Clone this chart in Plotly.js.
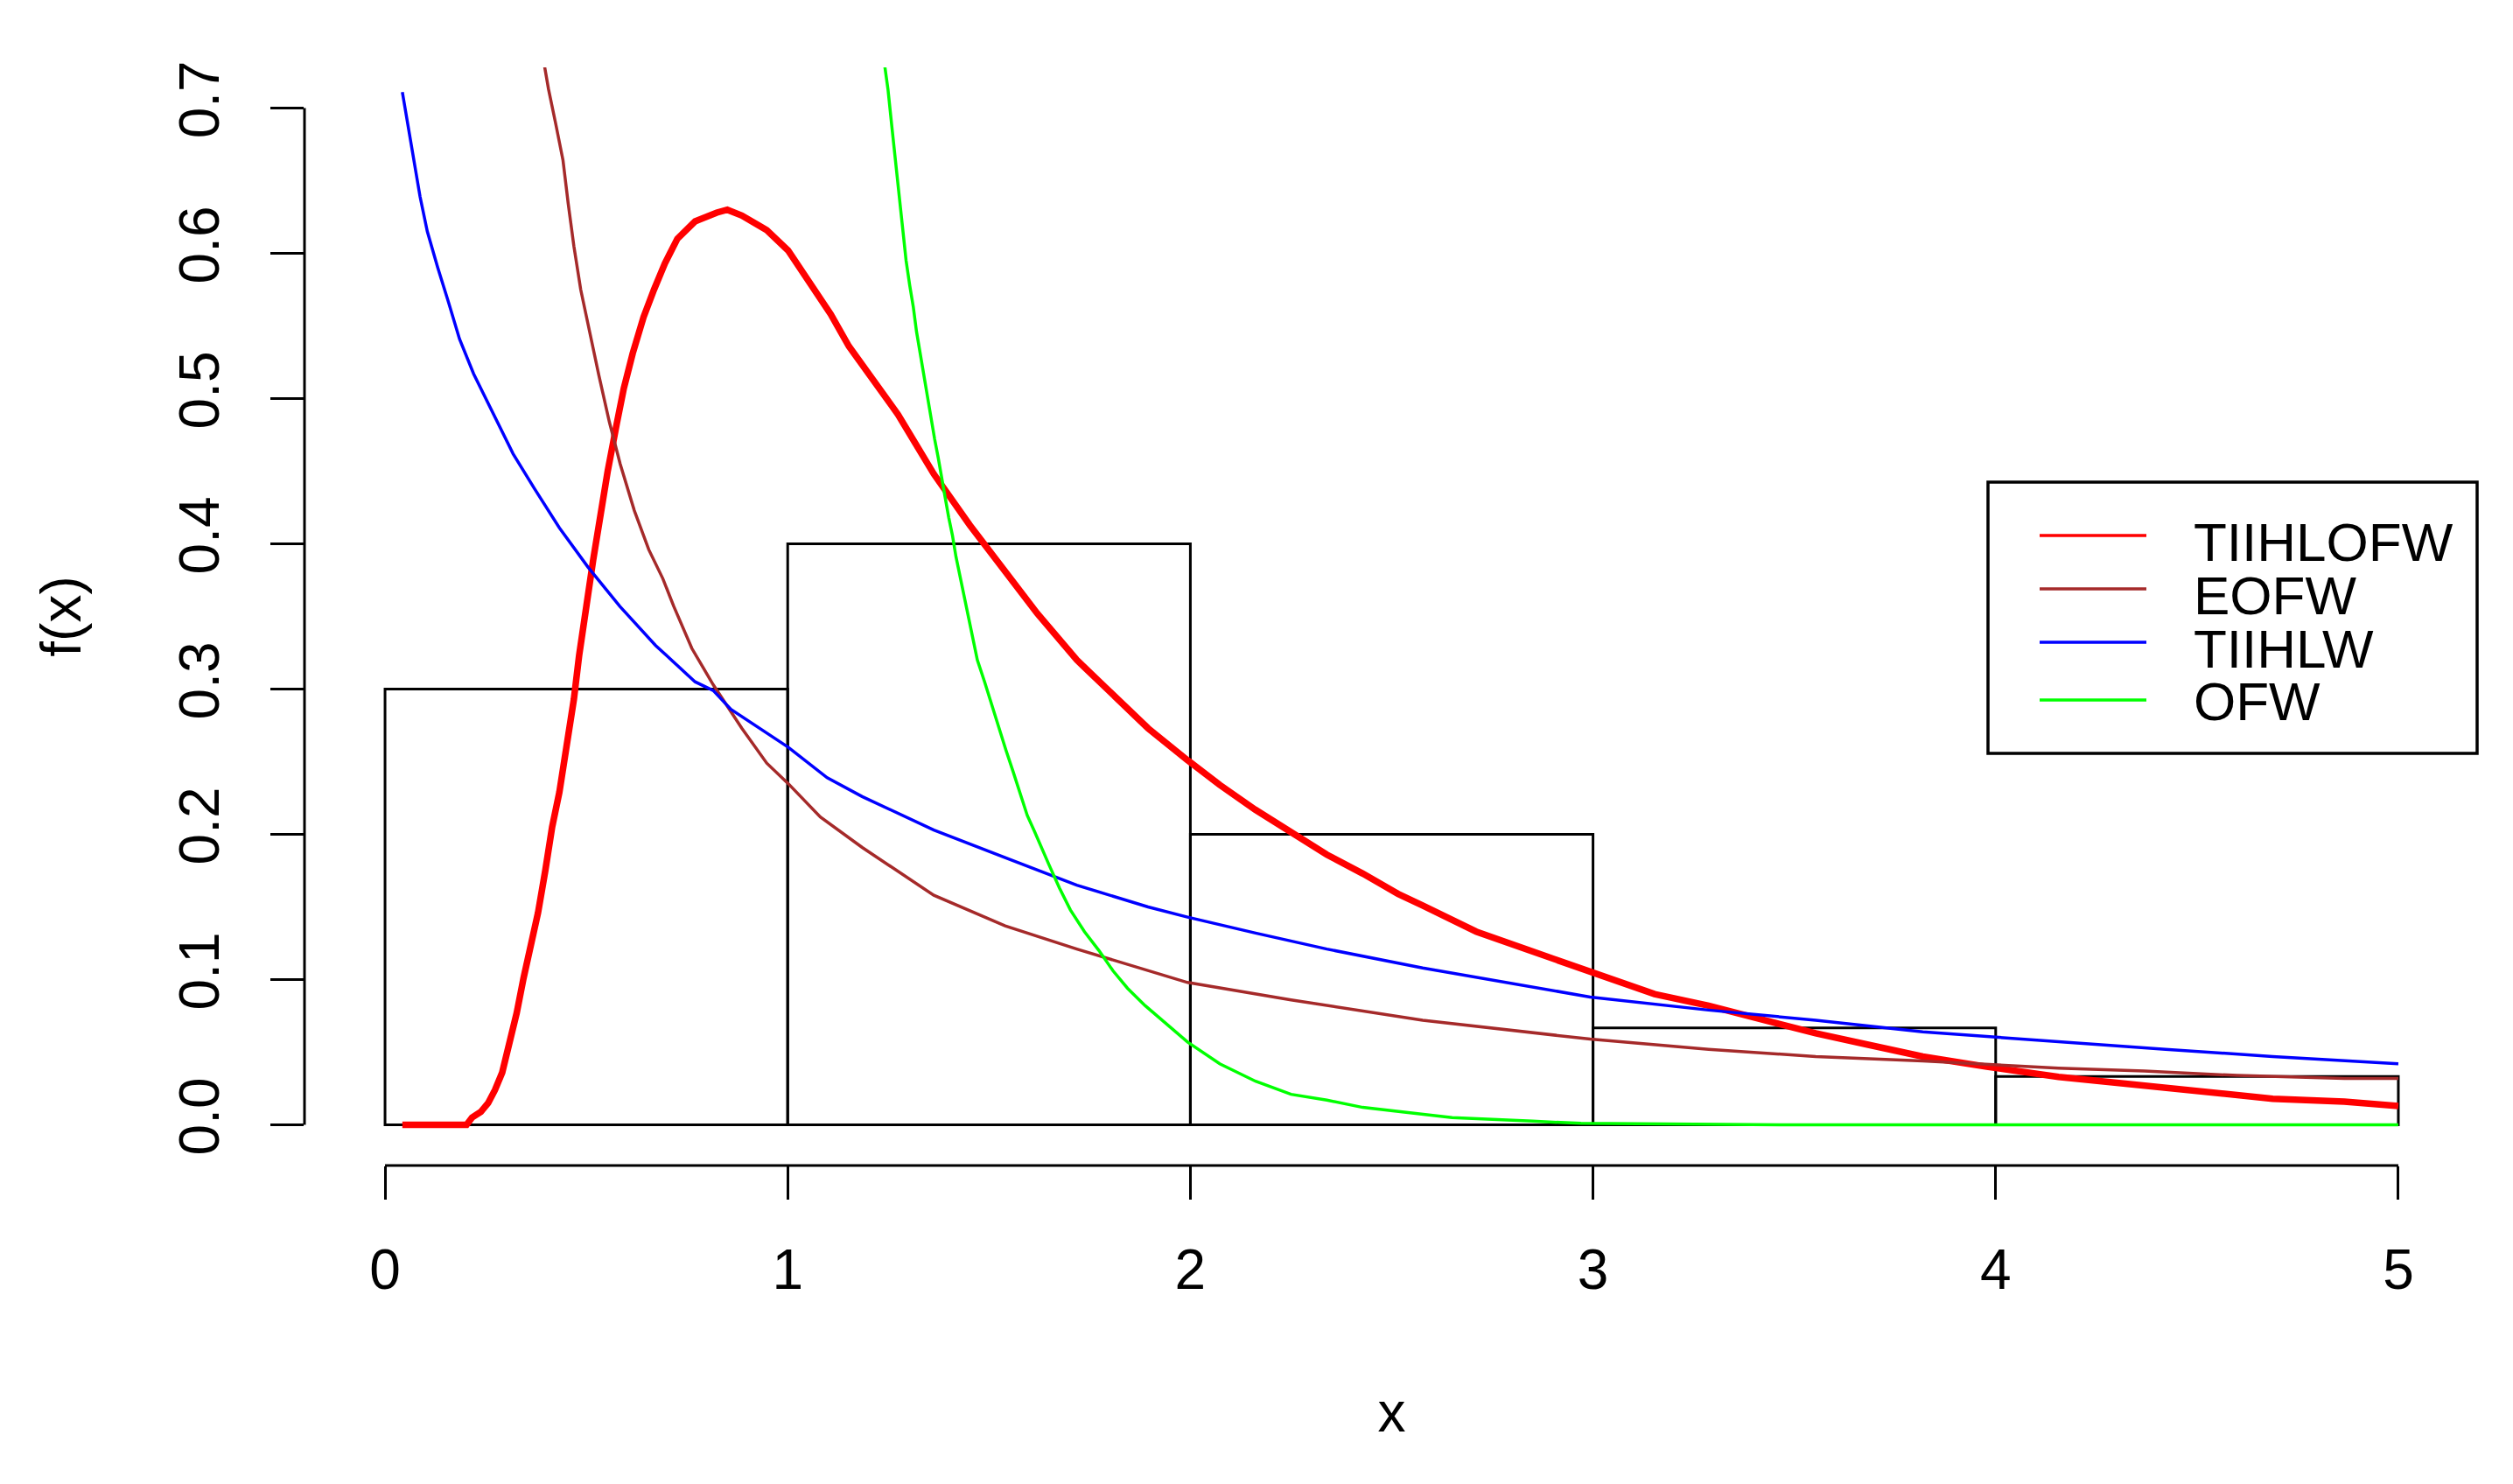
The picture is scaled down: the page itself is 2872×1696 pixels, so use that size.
<!DOCTYPE html>
<html>
<head>
<meta charset="utf-8">
<script src="https://cdn.plot.ly/plotly-3.0.1.min.js"></script>
<style>html,body{margin:0;padding:0;background:#fff;}#chart{width:2872px;height:1696px;}</style>
</head>
<body>
<div id="chart"></div>
<script>
// ---------- data ----------
const seriesNames = ["TIIHLOFW", "EOFW", "TIIHLW", "OFW"];
const seriesColors = ["#FF0000", "#A52A2A", "#0000FF", "#00FF00"];

const histMids = [0.5, 1.5, 2.5, 3.5, 4.5];
const histDensity = [0.3, 0.4, 0.2, 0.0667, 0.0333];

const redX = [0.043,0.2025,0.216,0.238,0.256,0.273,0.291,0.309,0.327,0.344,0.362,0.380,0.398,0.415,0.433,0.451,0.469,0.482,0.491,0.500,0.517,0.535,0.553,0.575,0.593,0.615,0.642,0.668,0.695,0.726,0.770,0.824,0.850,0.886,0.948,1.001,1.054,1.107,1.152,1.185,1.274,1.363,1.452,1.540,1.620,1.718,1.807,1.895,1.993,2.073,2.161,2.250,2.339,2.428,2.516,2.577,2.710,2.843,2.994,3.153,3.287,3.420,3.553,3.686,3.819,3.978,4.156,4.333,4.511,4.688,4.866,5.0];
const redY = [0,0,0.005,0.009,0.015,0.024,0.036,0.055,0.077,0.101,0.123,0.146,0.175,0.205,0.229,0.259,0.293,0.323,0.345,0.357,0.389,0.421,0.450,0.482,0.507,0.531,0.556,0.575,0.593,0.610,0.622,0.628,0.630,0.626,0.616,0.602,0.580,0.558,0.536,0.523,0.489,0.448,0.413,0.381,0.352,0.320,0.297,0.273,0.251,0.234,0.217,0.201,0.186,0.173,0.159,0.151,0.133,0.120,0.105,0.090,0.082,0.072,0.063,0.055,0.047,0.040,0.033,0.028,0.023,0.018,0.016,0.013];

const brownX = [0.396,0.406,0.424,0.442,0.455,0.469,0.486,0.504,0.531,0.557,0.584,0.619,0.655,0.690,0.717,0.762,0.815,0.886,0.948,1.001,1.081,1.185,1.363,1.540,1.718,1.993,2.250,2.577,2.993,3.287,3.553,3.819,3.968,4.156,4.369,4.600,4.866,5.0];
const brownY = [0.729,0.713,0.689,0.664,0.634,0.605,0.575,0.551,0.516,0.484,0.455,0.423,0.396,0.376,0.357,0.328,0.303,0.273,0.249,0.235,0.212,0.191,0.158,0.137,0.121,0.098,0.086,0.072,0.059,0.052,0.047,0.044,0.042,0.039,0.037,0.034,0.032,0.032];

const blueX = [0.043,0.052,0.069,0.087,0.105,0.131,0.158,0.185,0.220,0.264,0.318,0.371,0.433,0.504,0.583,0.672,0.770,0.815,0.859,1.001,1.098,1.185,1.363,1.540,1.718,1.895,1.993,2.162,2.339,2.577,2.993,3.287,3.553,3.819,3.968,4.156,4.422,4.688,5.0];
const blueY = [0.711,0.696,0.669,0.639,0.615,0.590,0.566,0.541,0.517,0.492,0.462,0.438,0.411,0.384,0.357,0.330,0.305,0.299,0.286,0.260,0.239,0.226,0.203,0.184,0.165,0.150,0.143,0.132,0.121,0.108,0.088,0.079,0.072,0.064,0.061,0.057,0.052,0.047,0.042];

const greenX = [1.241,1.249,1.258,1.267,1.276,1.285,1.294,1.303,1.312,1.320,1.329,1.338,1.347,1.356,1.365,1.374,1.382,1.391,1.400,1.409,1.418,1.427,1.436,1.445,1.454,1.471,1.489,1.507,1.524,1.542,1.560,1.578,1.595,1.613,1.631,1.649,1.675,1.702,1.737,1.773,1.808,1.844,1.888,1.933,1.993,2.073,2.162,2.250,2.339,2.428,2.577,2.65,2.85,2.97,3.5,4.0,5.0];
const greenY = [0.729,0.713,0.689,0.666,0.642,0.617,0.595,0.578,0.563,0.546,0.531,0.515,0.500,0.486,0.472,0.459,0.445,0.432,0.418,0.406,0.391,0.379,0.366,0.354,0.341,0.320,0.305,0.289,0.273,0.258,0.243,0.228,0.213,0.202,0.190,0.179,0.163,0.148,0.133,0.120,0.106,0.094,0.082,0.071,0.057,0.042,0.030,0.021,0.017,0.012,0.007,0.005,0.0025,0.001,0,0,0];

const xTicks = [0, 1, 2, 3, 4, 5];
const yTicks = [0, 0.1, 0.2, 0.3, 0.4, 0.5, 0.6, 0.7];
const yTickText = ["0.0","0.1","0.2","0.3","0.4","0.5","0.6","0.7"];
const xTitle = "x";
const yTitle = "f(x)";

// ---------- layout geometry (pixels) ----------
const W = 2872, H = 1696;
const L = 348, R = 2833, T = 77, B = 1332;
const FONT = "Liberation Sans, Arial, Helvetica, sans-serif";
const FS = 64;
const px = X => (X - L) / (R - L);
const py = Y => (B - Y) / (B - T);

const curves = [[redX, redY, 7.5], [brownX, brownY, 3.5], [blueX, blueY, 3.5], [greenX, greenY, 3.5]];

const traces = [{
  type: "bar", x: histMids, y: histDensity, width: 1,
  marker: {color: "rgba(255,255,255,0)", line: {color: "#000", width: 3}},
  showlegend: false, hoverinfo: "skip"
}];
curves.forEach((c, i) => {
  traces.push({
    type: "scatter", mode: "lines", name: seriesNames[i],
    x: c[0], y: c[1],
    line: {color: seriesColors[i], width: c[2]},
    showlegend: false
  });
});

// legend drawn as R-style box
const legBox = {x0: 2272, x1: 2831, y0: 551, y1: 861};
const legLineX = [2331, 2453];
const legRowsLine = [612, 673, 734, 800];
const legRowsText = [619, 680, 741, 801];
const legTextX = 2505;
const legFS = 62;

const shapes = [
  {type: "line", xref: "x", yref: "paper", x0: xTicks[0], x1: xTicks[xTicks.length-1], y0: 0, y1: 0, line: {color: "#000", width: 3}},
  {type: "line", xref: "paper", yref: "y", x0: 0, x1: 0, y0: yTicks[0], y1: yTicks[yTicks.length-1], line: {color: "#000", width: 3}},
  {type: "rect", xref: "paper", yref: "paper", x0: px(legBox.x0), x1: px(legBox.x1), y0: py(legBox.y1), y1: py(legBox.y0),
   line: {color: "#000", width: 3.5}, fillcolor: "#fff", layer: "above"}
];
const annotations = [];
seriesNames.forEach((n, i) => {
  shapes.push({type: "line", xref: "paper", yref: "paper",
    x0: px(legLineX[0]), x1: px(legLineX[1]), y0: py(legRowsLine[i]), y1: py(legRowsLine[i]),
    line: {color: seriesColors[i], width: 3.5}, layer: "above"});
  annotations.push({xref: "paper", yref: "paper", x: px(legTextX), y: py(legRowsText[i]),
    xanchor: "left", yanchor: "middle", showarrow: false, text: n,
    font: {family: FONT, size: legFS, color: "#000"}});
});

const layout = {
  width: W, height: H,
  margin: {l: L, r: W - R, t: T, b: H - B, pad: 0},
  paper_bgcolor: "#fff", plot_bgcolor: "#fff",
  font: {family: FONT, size: FS, color: "#000"},
  showlegend: false,
  bargap: 0,
  xaxis: {
    range: [-0.2, 5.2], tickvals: xTicks, ticktext: xTicks.map(String),
    showgrid: false, zeroline: false, showline: false,
    ticks: "outside", ticklen: 38, tickwidth: 3, tickcolor: "#000",
    ticklabelstandoff: 25,
    tickfont: {family: FONT, size: FS, color: "#000"},
    title: {text: xTitle, font: {family: FONT, size: FS, color: "#000"}, standoff: 105},
    automargin: false, fixedrange: true
  },
  yaxis: {
    range: [-0.028, 0.728], tickvals: yTicks, ticktext: yTickText,
    showgrid: false, zeroline: false, showline: false,
    ticks: "outside", ticklen: 38, tickwidth: 3, tickcolor: "#000",
    tickangle: -90, ticklabelstandoff: 33,
    tickfont: {family: FONT, size: FS, color: "#000"},
    title: {text: yTitle, font: {family: FONT, size: FS, color: "#000"}, standoff: 79},
    automargin: false, fixedrange: true
  },
  shapes: shapes,
  annotations: annotations
};

Plotly.newPlot("chart", traces, layout, {displayModeBar: false, staticPlot: true});
</script>
</body>
</html>
